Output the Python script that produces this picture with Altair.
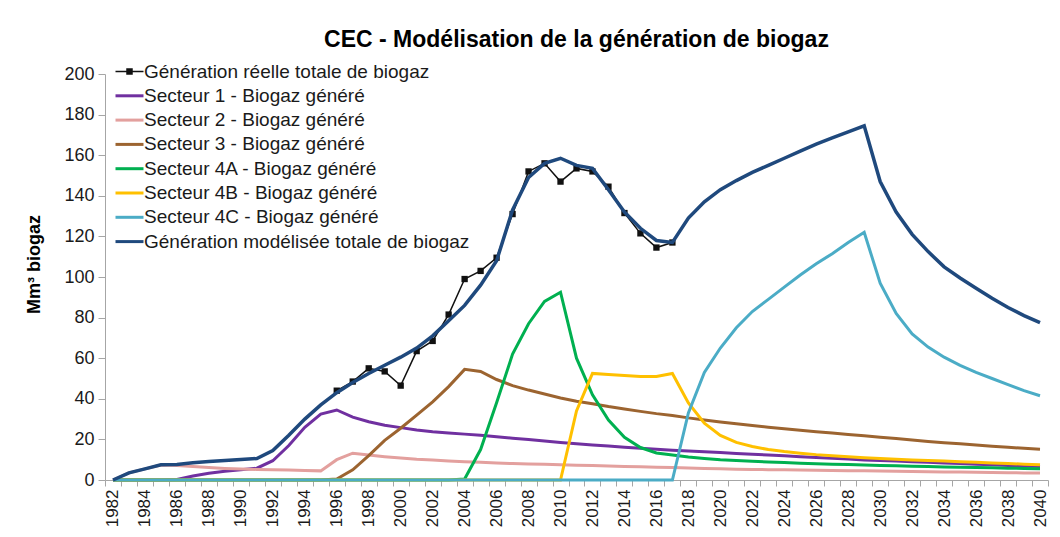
import altair as alt
import pandas as pd

years = list(range(1982, 2041))

names = [
    "Génération réelle totale de biogaz",
    "Secteur 1 - Biogaz généré",
    "Secteur 2 - Biogaz généré",
    "Secteur 3 - Biogaz généré",
    "Secteur 4A - Biogaz généré",
    "Secteur 4B - Biogaz généré",
    "Secteur 4C - Biogaz généré",
    "Génération modélisée totale de biogaz",
]
colors = ["#111111", "#7030A0", "#E3A09E", "#9C6430", "#00B050", "#FFC000", "#4BACC6", "#1F497D"]

actual_years = list(range(1996, 2018))
actual = [44, 48.5, 55, 53.5, 46.5, 63.5, 68.5, 81.5, 99, 103, 109.5, 131,
          152, 156, 147, 153.5, 152, 144.5, 131.5, 121.5, 114.5, 117]

total = [0, 3.5, 5.5, 7.5, 7.6, 8.5, 9.1, 9.6, 10.1, 10.6,
         14.5, 22, 30, 37, 43, 48, 52.5, 56.5, 60.5, 65,
         71, 78.5, 86, 96, 108, 133, 149, 156, 158.5, 155,
         153.5, 143, 132, 124, 118, 117, 129, 137, 143, 147.5,
         151.5, 155, 158.5, 162, 165.5, 168.5, 171.5, 174.5, 147, 132,
         121, 112.5, 105, 99.5, 94.5, 89.5, 85, 81, 77.5]

s1 = [0, 0, 0, 0, 0.3, 2, 3.3, 4.3, 5, 5.8,
      9.5, 17, 26, 32.5, 34.5, 31, 28.7, 27, 25.8, 24.6,
      23.8, 23.2, 22.6, 22, 21.3, 20.6, 19.9, 19.2, 18.5, 17.9,
      17.3, 16.7, 16.1, 15.6, 15.1, 14.7, 14.3, 13.9, 13.5, 13.1,
      12.7, 12.3, 11.9, 11.5, 11.1, 10.7, 10.3, 9.9, 9.6, 9.3,
      9.0, 8.7, 8.4, 8.1, 7.8, 7.5, 7.2, 6.9, 6.6]

s2 = [0, 3.5, 5.5, 7.4, 7.2, 6.6, 6.1, 5.7, 5.4, 5.2,
      5.0, 4.9, 4.7, 4.5, 10, 13.2, 12.3, 11.5, 10.8, 10.2,
      9.8, 9.4, 9.0, 8.7, 8.4, 8.1, 7.9, 7.7, 7.5, 7.3,
      7.1, 6.9, 6.7, 6.5, 6.3, 6.1, 5.9, 5.7, 5.5, 5.3,
      5.2, 5.1, 5.0, 4.9, 4.8, 4.7, 4.6, 4.5, 4.4, 4.3,
      4.2, 4.1, 4.0, 3.9, 3.8, 3.7, 3.6, 3.5, 3.4]

s3 = [0] * 14 + [0.5, 5, 12, 19.5, 25.5, 32, 38.5, 46, 54.5, 53.5,
                 49.5, 46.5, 44.3, 42.4, 40.4, 38.8, 37.6, 36.2, 35, 33.8,
                 32.7, 31.8, 30.6, 29.6, 28.6, 27.7, 26.8, 26, 25.2, 24.5,
                 23.8, 23.1, 22.4, 21.8, 21.1, 20.4, 19.7, 19.0, 18.4, 17.8,
                 17.2, 16.6, 16.1, 15.6, 15.1]

s4a = [0] * 22 + [0.5, 15, 38, 62, 77, 88, 92.5, 60, 42, 29.5,
                  21, 16, 13.3, 12.3, 11.3, 10.6, 10.0, 9.6, 9.2, 8.9,
                  8.6, 8.3, 8.0, 7.8, 7.6, 7.4, 7.2, 7.0, 6.8, 6.6,
                  6.4, 6.3, 6.1, 6.0, 5.8, 5.7, 5.5]

s4b = [0] * 28 + [0, 34, 52.5, 52, 51.5, 51, 51, 52.5, 38, 28,
                  22, 18.5, 16.5, 15, 14, 13.2, 12.5, 12, 11.5, 11,
                  10.6, 10.2, 9.9, 9.6, 9.3, 9.0, 8.7, 8.4, 8.1, 7.8, 7.5]

s4c = [0] * 36 + [33, 53, 65, 75, 83, 89, 95, 101, 106.5, 111.5,
                  117, 122, 97, 82, 72, 65.5, 60.5, 56.5, 53, 50,
                  47, 44, 41.5]

series_values = [s1, s2, s3, s4a, s4b, s4c, total]
rows = []
for y, v in zip(actual_years, actual):
    rows.append({"year": y, "series": names[0], "value": v})
for name, vals in zip(names[1:], series_values):
    for y, v in zip(years, vals):
        rows.append({"year": y, "series": name, "value": v})
df = pd.DataFrame(rows)

FONT = "Liberation Sans"
SQ = "M-1.4,0H1.4M-0.25,-0.25H0.25V0.25H-0.25Z"
LN = "M-1.4,0H1.4"
first = names[0]

legend = alt.Legend(
    title=None, orient="none", legendX=15, legendY=-12,
    symbolType=alt.ExprRef(expr=f"datum.value === '{first}' ? '{SQ}' : '{LN}'"),
    symbolSize=400,
    symbolStrokeWidth=alt.ExprRef(expr=f"datum.value === '{first}' ? 1.5 : 3"),
    symbolFillColor=alt.ExprRef(expr=f"datum.value === '{first}' ? '#111111' : 'transparent'"),
    labelFont=FONT, labelFontSize=19, labelColor="#1a1a1a",
    labelOffset=5, rowPadding=4.3, padding=0, labelLimit=0,
)

x = alt.X("year:O", bandPosition=0.5,
          scale=alt.Scale(type="band", paddingInner=0, paddingOuter=0),
          axis=alt.Axis(title=None, labelAngle=-90, labelOverlap=False,
                        labelExpr="datum.value % 2 == 0 ? datum.label : ''",
                        tickBand="extent", tickSize=6, tickColor="#A6A6A6",
                        domainColor="#A6A6A6", labelFont=FONT, labelFontSize=17,
                        labelColor="#1a1a1a", labelPadding=3))
y = alt.Y("value:Q", scale=alt.Scale(domain=[0, 200], nice=False),
          axis=alt.Axis(values=list(range(0, 201, 20)), grid=False, title="Mm³ biogaz",
                        titleFont=FONT, titleFontSize=18, titleFontWeight="bold",
                        titleColor="#000000", titlePadding=20, titleY=190,
                        tickSize=7, tickColor="#A6A6A6", domainColor="#A6A6A6",
                        labelFont=FONT, labelFontSize=18, labelColor="#1a1a1a",
                        labelPadding=4))
color = alt.Color("series:N", scale=alt.Scale(domain=names, range=colors), legend=legend)

base = alt.Chart(df).encode(x=x, y=y, color=color)

widths = [1.5, 3, 3, 3, 3, 3, 3, 3.5]
layers = []
for i, (name, w) in enumerate(zip(names, widths)):
    layers.append(base.transform_filter(alt.datum.series == name).mark_line(strokeWidth=w))
    if i == 0:
        layers.append(
            alt.Chart(df).transform_filter(alt.datum.series == name)
            .mark_point(shape="square", filled=True, size=40, opacity=1, color="#111111")
            .encode(x=x, y=y)
        )

chart = alt.layer(*layers).properties(
    width=943, height=406,
    title=alt.Title("CEC - Modélisation de la génération de biogaz", font=FONT,
                    fontSize=23, fontWeight="bold", color="#000000",
                    anchor="middle", offset=10),
    autosize=alt.AutoSizeParams(type="none"),
    padding={"left": 97, "top": 66, "right": 4, "bottom": 49},
).configure_view(stroke=None)

chart.save("out.html", embed_options={"renderer": "svg", "actions": False})
